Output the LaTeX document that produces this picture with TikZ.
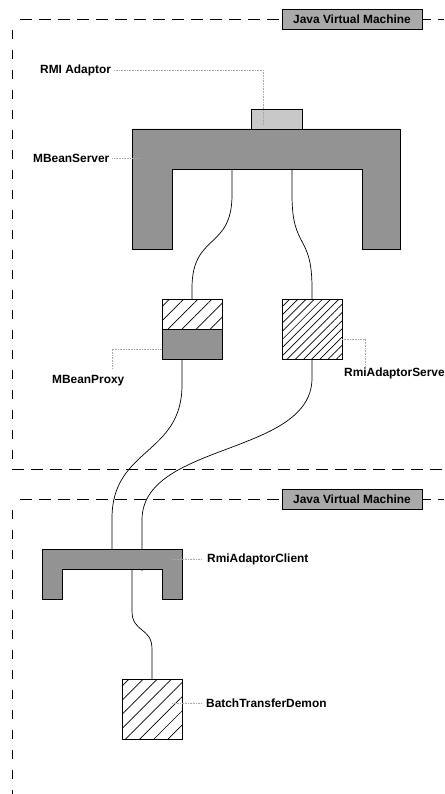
\documentclass[tikz,border=0pt]{standalone}
\usepackage{fontspec}
\setmainfont{Liberation Sans}
\usetikzlibrary{shapes,positioning,arrows,calc,patterns.meta}
\usepackage{xcolor}
\definecolor{srvgray}{HTML}{939393}
\definecolor{adpgray}{HTML}{C8C8C8}
\definecolor{jvmgray}{HTML}{A9A9A9}
\definecolor{dotgray}{HTML}{A8A8A8}

\begin{document}
\begin{tikzpicture}[x=1pt, y=-1pt, font=\fontsize{11.9}{14}\selectfont\bfseries]

	\tikzstyle{hframe}=[line width=0.8pt, dash pattern=on 12pt off 7pt];
	\tikzstyle{vframe}=[line width=0.8pt, dash pattern=on 9pt off 11pt];
	\tikzstyle{jvmbox}=[draw, fill=jvmgray, rectangle, line width=0.8pt, minimum width=140pt, minimum height=20pt, inner sep=0pt];
	\tikzstyle{stdbox}=[draw, rectangle, line width=0.8pt, outer sep=0pt, inner sep=0pt, minimum size=60pt];
	\tikzstyle{hatched}=[pattern={Lines[angle=45, distance=10pt, line width=0.7pt]}];
	\tikzstyle{densehatched}=[pattern={Lines[angle=45, distance=5.8pt, line width=0.7pt]}];
	\tikzstyle{halfbox}=[draw, rectangle, line width=0.8pt, outer sep=0pt, inner sep=0pt, minimum width=60pt, minimum height=30pt];
	\tikzstyle{ushape}=[draw, fill=srvgray, line width=0.8pt];
	\tikzstyle{wire}=[line width=0.7pt];
	\tikzstyle{leader}=[dotgray, line width=0.6pt, dash pattern=on 0.8pt off 0.8pt];
	\tikzstyle{lbl}=[anchor=west, inner sep=0pt];

	\useasboundingbox (0,0) rectangle (444,794);

	% first virtual machine
	\draw[vframe] (12,30) -- (12,462);
	\draw[hframe] (20,19) -- (444,19);
	\draw[hframe] (12,469) -- (444,469);
	\node (jvm_top) at (352,19) [jvmbox]{Java Virtual Machine};

	% second virtual machine
	\draw[vframe] (12,510) -- (12,794);
	\draw[hframe] (20,499) -- (444,499);
	\node (jvm_bottom) at (352,499) [jvmbox]{Java Virtual Machine};

	\begin{scope}[line width=0.8pt]

		% mbean server
		\filldraw[ushape] (132,129) -- (400,129) -- (400,249) -- (362,249) -- (362,169) -- (172,169) -- (172,249) -- (132,249) -- cycle;
		\coordinate (srv_left) at (232,169);
		\coordinate (srv_right) at (292,169);
		\node (adaptor) at (276.5,119) [draw, fill=adpgray, rectangle, inner sep=0pt, minimum width=51pt, minimum height=20pt]{};

		\node (proxy_top) at (192,314) [halfbox, hatched]{};
		\node (proxy_bot) [below = 0pt of proxy_top, halfbox, fill=srvgray]{};
		\node (rmis_box) [right = 60pt of proxy_top.north east, anchor=north west, stdbox, densehatched]{};

		\draw[wire] (srv_left) -- ++(0,26) .. controls +(0,55) and +(0,-55) .. ($(proxy_top.north)+(0,-11)$) -- (proxy_top.north);
		\draw[wire] (srv_right) -- ++(0,26) .. controls +(0,55) and +(0,-55) .. ($(rmis_box.north)+(0,-11)$) -- (rmis_box.north);

		% rmi adaptor client
		\coordinate (cli_a) at (112,549);
		\coordinate (cli_b) at (142,571);
		\coordinate (cli_out) at (132,569);

		\draw[wire] ([xshift=-10pt]proxy_bot.south) -- ++(0,26) .. controls +(0,70) and +(0,-70) .. (112,518) -- (cli_a);
		\draw[wire] (rmis_box.south) -- ++(0,19) .. controls +(0,78) and +(0,-78) .. (142,520) -- (cli_b);

		\filldraw[ushape] (42,549) -- (182,549) -- (182,599) -- (162,599) -- (162,569) -- (62,569) -- (62,599) -- (42,599) -- cycle;

		\node (demon) at (152,709) [stdbox, hatched]{};
		\draw[wire] (cli_out) -- ++(0,42) .. controls +(0,22) and +(0,-22) .. ($(demon.north)+(0,-30)$) -- (demon.north);

	\end{scope}

	% labels and leaders
	\node (rmi_label) at (40,70) [lbl]{RMI Adaptor};
	\coordinate (adaptor_pin) at (263,125);
	\draw[leader] ([xshift=3pt]rmi_label.east) -| (adaptor_pin);

	\node (srv_label) at (33,158) [lbl]{MBeanServer};
	\coordinate (srv_pin) at (141,158);
	\draw[leader] ([xshift=3pt]srv_label.east) -- (srv_pin);

	\node (mbp_label) at (52,381) [lbl]{MBeanProxy};
	\coordinate (mbp_pin) at (112,368);
	\draw[leader] ([yshift=-5pt]proxy_bot.west) -| (mbp_pin);

	\node (rmis_label) at (344,373) [lbl]{RmiAdaptorServer};
	\coordinate (rmis_pin) at (365,366);
	\draw[leader] ([yshift=-10pt]rmis_box.east) -| (rmis_pin);

	\node (cli_label) at (207,559) [lbl]{RmiAdaptorClient};
	\coordinate (cli_pin) at (172,559);
	\draw[leader] (cli_pin) -- ([xshift=-6pt]cli_label.west);

	\node (demon_label) at (206,703) [lbl]{BatchTransferDemon};
	\draw[leader] ([xshift=-10pt,yshift=6pt]demon.east) -- ([xshift=-5pt]demon_label.west);

\end{tikzpicture}
\end{document}
